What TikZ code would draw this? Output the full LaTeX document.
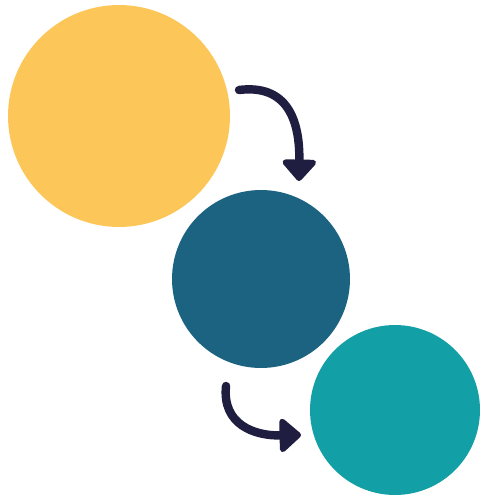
\documentclass[tikz,border=0pt]{standalone}
\usepackage{tikz}
\usetikzlibrary{arrows.meta}
\usepackage{xcolor}
\definecolor{sunyellow}{HTML}{FDC659}
\definecolor{deepteal}{HTML}{1B6380}
\definecolor{brightteal}{HTML}{129FA6}
\definecolor{inkblue}{HTML}{1F1D40}
\begin{document}
\begin{tikzpicture}[x=0.02cm,y=-0.02cm]
	\tikzset{blob/.style = {shape=circle,draw=none,inner sep=0pt}}
	\tikzset{edge/.style = {draw=inkblue,line width=4.8pt,line cap=round,
			-{Triangle[width=0.78cm,length=0.46cm,round]}}}
	\useasboundingbox (0,0) rectangle (500,500);
    % circles
    \node[blob,fill=sunyellow,minimum size=4.44cm] (a) at (119,116) {};
    \node[blob,fill=deepteal,minimum size=3.56cm] (b) at (261,279) {};
    \node[blob,fill=brightteal,minimum size=3.4cm] (c) at (395,410) {};
    % arrow ends
    \coordinate (s1) at (239,90);
    \coordinate (t1) at (299,181);
    \coordinate (s2) at (226,386);
    \coordinate (t2) at (301,435);
    % arrows
	\draw[edge] (s1) .. controls (287,84) and (300,120) .. (t1);
	\draw[edge] (s2) .. controls (222,425) and (255,436) .. (t2);
\end{tikzpicture}
\end{document}
